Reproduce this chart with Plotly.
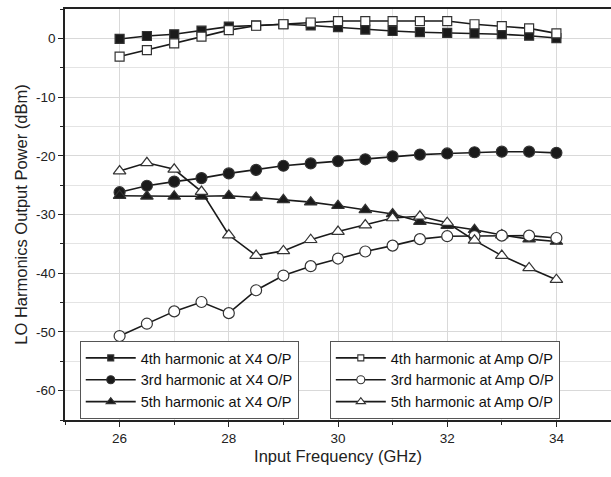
import plotly.graph_objects as go

freq = [26, 26.5, 27, 27.5, 28, 28.5, 29, 29.5, 30, 30.5, 31, 31.5, 32, 32.5, 33, 33.5, 34]

h4_x4 = [-0.1, 0.4, 0.7, 1.3, 2.0, 2.2, 2.4, 2.2, 1.9, 1.5, 1.25, 1.05, 0.95, 0.85, 0.7, 0.45, 0.05]
h3_x4 = [-26.2, -25.1, -24.4, -23.8, -23.0, -22.4, -21.7, -21.3, -20.9, -20.6, -20.1, -19.8, -19.6, -19.4, -19.3, -19.3, -19.5]
h5_x4 = [-26.8, -26.9, -26.9, -26.9, -26.8, -27.1, -27.5, -27.9, -28.5, -29.2, -29.9, -31.2, -31.9, -32.6, -33.5, -34.2, -34.6]

h4_amp = [-3.1, -2.0, -0.85, 0.3, 1.4, 2.15, 2.4, 2.7, 2.95, 2.95, 2.95, 2.95, 2.95, 2.4, 2.1, 1.7, 0.85]
h3_amp = [-50.7, -48.6, -46.5, -44.9, -46.8, -42.9, -40.4, -38.8, -37.5, -36.3, -35.3, -34.2, -33.7, -33.7, -33.6, -33.6, -34.0]
h5_amp = [-22.6, -21.2, -22.3, -26.1, -33.5, -37.0, -36.2, -34.3, -32.9, -31.8, -30.6, -30.3, -31.4, -34.4, -37.0, -39.1, -41.1]

y_ticks = [0, -10, -20, -30, -40, -50, -60]
y_tick_labels = ["0", "-10", "-20", "-30", "-40", "-50", "-60"]

names_x4 = ["4th harmonic at X4 O/P", "3rd harmonic at X4 O/P", "5th harmonic at X4 O/P"]
names_amp = ["4th harmonic at Amp O/P", "3rd harmonic at Amp O/P", "5th harmonic at Amp O/P"]

LINE = "#1a1a1a"
fig = go.Figure()

series = [
    (h4_x4, names_x4[0], "square", LINE, 9, "legend"),
    (h3_x4, names_x4[1], "circle", LINE, 11, "legend"),
    (h5_x4, names_x4[2], "triangle-up", LINE, 11, "legend"),
    (h4_amp, names_amp[0], "square", "white", 9, "legend2"),
    (h3_amp, names_amp[1], "circle", "white", 11, "legend2"),
    (h5_amp, names_amp[2], "triangle-up", "white", 11, "legend2"),
]

for vals, name, sym, fill, size, leg in series:
    fig.add_trace(go.Scatter(
        x=freq, y=vals, name=name, mode="lines+markers",
        line=dict(color=LINE, width=1.6),
        marker=dict(symbol=sym, size=size, color=fill,
                    line=dict(color="#333333", width=1.2)),
        showlegend=False,
    ))
    # legend-only entry with the smaller legend glyph
    fig.add_trace(go.Scatter(
        x=[None], y=[None], name=name, mode="lines+markers",
        line=dict(color=LINE, width=1.6),
        marker=dict(symbol=sym, size=size - 3, color=fill,
                    line=dict(color="#333333", width=1.1)),
        legend=leg, showlegend=True, hoverinfo="skip",
    ))

FONT = "Liberation Sans, Arial, sans-serif"

legend_common = dict(
    bgcolor="white", bordercolor="#555555", borderwidth=1,
    font=dict(family=FONT, size=14.5, color="#111111"),
    xanchor="left", yanchor="bottom", tracegroupgap=0,
    itemwidth=50,
)

fig.update_layout(
    width=611, height=477,
    margin=dict(l=65, r=0, t=9, b=57),
    paper_bgcolor="white", plot_bgcolor="white",
    font=dict(family=FONT, color="#222222"),
    legend=dict(x=0.027, y=0.0025, **legend_common),
    legend2=dict(x=0.485, y=0.0025, **legend_common),
    xaxis=dict(
        range=[25, 35], dtick=2, tick0=26, automargin=False,
        showline=True, linecolor="#222222", linewidth=1.6, mirror=True,
        ticks="outside", ticklen=5, tickcolor="#222222",
        showgrid=True, gridcolor="#d9d9d9", gridwidth=1,
        minor=dict(dtick=1, ticks="outside", ticklen=3, tickcolor="#222222",
                   showgrid=True, gridcolor="#e4e4e4"),
        tickfont=dict(size=13.5, color="#222222"),
        title=dict(text="Input Frequency (GHz)", font=dict(size=16.5, color="#222222"), standoff=5),
        zeroline=False,
    ),
    yaxis=dict(
        range=[-65, 5], tickmode="array", tickvals=y_ticks, ticktext=y_tick_labels,
        automargin=False,
        showline=True, linecolor="#222222", linewidth=1.6, mirror=False,
        ticks="outside", ticklen=5, tickcolor="#222222",
        showgrid=True, gridcolor="#d9d9d9", gridwidth=1,
        minor=dict(tickmode="linear", tick0=0, dtick=5, ticks="outside", ticklen=3,
                   tickcolor="#222222", showgrid=True, gridcolor="#e4e4e4"),
        tickfont=dict(size=13.5, color="#222222"),
        title=dict(text="LO Harmonics Output Power (dBm)", font=dict(size=16.5, color="#222222"), standoff=4),
        zeroline=False,
    ),
)

fig.write_html("out.html", config={"displayModeBar": False},
               post_script="document.body.style.margin='0px';")
